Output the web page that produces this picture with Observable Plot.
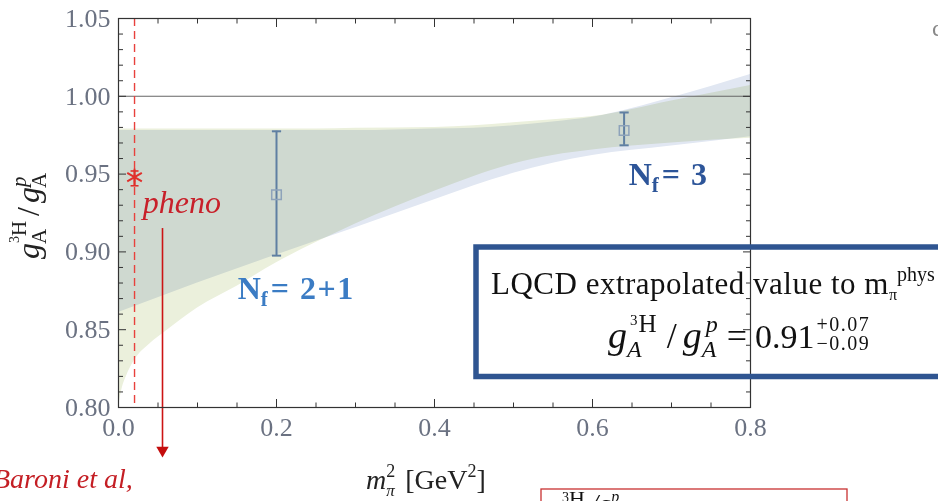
<!DOCTYPE html>
<html><head><meta charset="utf-8">
<script src="https://cdn.jsdelivr.net/npm/d3@7"></script>
<script src="https://cdn.jsdelivr.net/npm/@observablehq/plot@0.6"></script>
<style>html,body{margin:0;padding:0;background:#fff;overflow:hidden;} #chart{width:938px;height:501px;overflow:hidden;}</style>
</head><body><div id="chart"></div>
<script>
const serif = "'Liberation Serif', 'Times New Roman', serif";

// Nf=2+1 extrapolation band (yellow-green)
const yellowX  = [0, 0.005, 0.01, 0.02, 0.04, 0.06, 0.1, 0.15, 0.2, 0.25, 0.3, 0.4, 0.45, 0.5, 0.55, 0.6, 0.7, 0.8];
const yellowLo = [0.800, 0.813, 0.820, 0.830, 0.841, 0.849, 0.864, 0.878, 0.893, 0.906, 0.918, 0.939, 0.9485, 0.9565, 0.962, 0.9655, 0.970, 0.973];
const yellowHi = [0.979, 0.979, 0.979, 0.979, 0.979, 0.979, 0.979, 0.979, 0.979, 0.979, 0.9795, 0.980, 0.981, 0.983, 0.985, 0.987, 0.997, 1.007];
// Nf=3 extrapolation band (light blue)
const blueX  = [0, 0.1, 0.2, 0.3, 0.4, 0.45, 0.5, 0.55, 0.6, 0.7, 0.8];
const blueLo = [0.861, 0.880, 0.898, 0.9155, 0.9335, 0.9425, 0.9505, 0.957, 0.962, 0.968, 0.974];
const blueHi = [0.978, 0.978, 0.978, 0.978, 0.979, 0.9795, 0.981, 0.9835, 0.9865, 0.999, 1.014];

// lattice points
const pointName = ["Nf=2+1", "Nf=3"];
const pointX  = [0.2, 0.64];
const pointY  = [0.9367, 0.978];
const pointLo = [0.8976, 0.9685];
const pointHi = [0.9775, 0.9896];

// phenomenological value
const phenoX  = [0.0203];
const phenoY  = [0.948];
const phenoLo = [0.9425];
const phenoHi = [0.952];

// arrow below "pheno"
const arrowX = [0.0557];
const arrowTop = [0.915];
const arrowTip = [0.7725];

// ticks
const xMajor = [0, 0.2, 0.4, 0.6, 0.8];
const xMinor = [0.05, 0.1, 0.15, 0.25, 0.3, 0.35, 0.45, 0.5, 0.55, 0.65, 0.7, 0.75];
const yMajor = [0.80, 0.85, 0.90, 0.95, 1.00, 1.05];
const yMinor = [0.81,0.82,0.83,0.84,0.86,0.87,0.88,0.89,0.91,0.92,0.93,0.94,0.96,0.97,0.98,0.99,1.01,1.02,1.03,1.04];

const yellowBand = yellowX.map((x, i) => ({x, lo: yellowLo[i], hi: yellowHi[i]}));
const blueBand = blueX.map((x, i) => ({x, lo: blueLo[i], hi: blueHi[i]}));
const points = pointName.map((n, i) => ({n, x: pointX[i], y: pointY[i], lo: pointLo[i], hi: pointHi[i]}));
const pheno = phenoX.map((x, i) => ({x, y: phenoY[i], lo: phenoLo[i], hi: phenoHi[i]}));
const arrow = arrowX.map((x, i) => ({x, top: arrowTop[i], tip: arrowTip[i]}));

const capSymbol = {draw(ctx, size) { const r = Math.sqrt(size / Math.PI); ctx.moveTo(-r, 0); ctx.lineTo(r, 0); }};
const errColor = "#5f7fa2";
const tickColor = "#333";
const labColor = "#6b7282";

const axisCommon = {stroke: tickColor, label: null};
const plot = Plot.plot({
  width: 938, height: 501,
  marginLeft: 118, marginRight: 188, marginTop: 18, marginBottom: 94,
  x: {domain: [0, 0.8]},
  y: {domain: [0.8, 1.05]},
  style: {fontFamily: serif, background: "white", overflow: "visible"},
  marks: [
    Plot.areaY(yellowBand, {x: "x", y1: "lo", y2: "hi", fill: "#ebf0dc", curve: "monotone-x", mixBlendMode: "multiply"}),
    Plot.areaY(blueBand, {x: "x", y1: "lo", y2: "hi", fill: "#e1e7f2", curve: "monotone-x", mixBlendMode: "multiply"}),
    Plot.ruleY([1.0], {stroke: "#666", strokeWidth: 1.1}),
    Plot.ruleX(pheno, {x: "x", stroke: "#e8413c", strokeWidth: 1.4, strokeDasharray: "8,5"}),
    Plot.ruleX(arrow, {x: "x", y1: "top", y2: "tip", stroke: "#cc1414", strokeWidth: 1.6}),
    Plot.dot(arrow, {x: "x", y: "tip", symbol: "triangle", rotate: 180, r: 4.6, fill: "#c40d0d", stroke: "none"}),
    // error bars
    Plot.ruleX(points, {x: "x", y1: "lo", y2: "hi", stroke: errColor, strokeWidth: 2}),
    Plot.dot(points, {x: "x", y: "lo", symbol: capSymbol, r: 4.6, stroke: errColor, strokeWidth: 2, fill: "none"}),
    Plot.dot(points, {x: "x", y: "hi", symbol: capSymbol, r: 4.6, stroke: errColor, strokeWidth: 2, fill: "none"}),
    Plot.dot(points, {x: "x", y: "y", symbol: "square", r: 5.4, stroke: "#8ea3ba", strokeWidth: 1.5, fill: "none"}),
    // pheno
    Plot.ruleX(pheno, {x: "x", y1: "lo", y2: "hi", stroke: "#e0302c", strokeWidth: 1.6}),
    Plot.dot(pheno, {x: "x", y: "lo", symbol: capSymbol, r: 4, stroke: "#e0302c", strokeWidth: 1.6, fill: "none"}),
    Plot.dot(pheno, {x: "x", y: "hi", symbol: capSymbol, r: 4, stroke: "#e0302c", strokeWidth: 1.6, fill: "none"}),
    Plot.dot(pheno, {x: "x", y: "y", symbol: "asterisk", r: 8, stroke: "#e0302c", strokeWidth: 2}),
    Plot.frame({stroke: tickColor, strokeWidth: 1.2}),
    // axes (inward ticks on all sides)
    Plot.axisX(xMajor, {...axisCommon, anchor: "bottom", tickSize: -8, tickPadding: 18, tickFormat: d => d.toFixed(1), fontSize: 26, fill: labColor}),
    Plot.axisX(xMinor, {...axisCommon, anchor: "bottom", tickSize: -4.5, fill: "none"}),
    Plot.axisX(xMajor, {...axisCommon, anchor: "top", tickSize: -8, fill: "none"}),
    Plot.axisX(xMinor, {...axisCommon, anchor: "top", tickSize: -4.5, fill: "none"}),
    Plot.axisY(yMajor, {...axisCommon, anchor: "left", tickSize: -8, tickPadding: 16, tickFormat: d => d.toFixed(2), fontSize: 26, fill: labColor}),
    Plot.axisY(yMinor, {...axisCommon, anchor: "left", tickSize: -5, fill: "none"}),
    Plot.axisY(yMajor, {...axisCommon, anchor: "right", tickSize: -8, fill: "none"}),
    Plot.axisY(yMinor, {...axisCommon, anchor: "right", tickSize: -5, fill: "none"})
  ]
});
document.getElementById("chart").append(plot);

const svg = d3.select(plot);
svg.selectAll('g[aria-label="area"]').style("mix-blend-mode", "multiply");
const sx = plot.scale("x"), sy = plot.scale("y");

function put(g, it, x) {
  const el = g.append("text").attr("x", x).attr("y", it.dy || 0)
    .attr("text-anchor", "start")
    .attr("font-size", it.size)
    .attr("font-style", it.italic ? "italic" : "normal")
    .attr("font-weight", it.bold ? "bold" : "normal")
    .text(it.t);
  if (it.ls) el.attr("letter-spacing", it.ls);
  if (it.fill) el.attr("fill", it.fill);
  return el.node().getComputedTextLength();
}
function layout(g, items, x0) {
  let cx = x0;
  for (const it of items) {
    cx += it.dx || 0;
    if (it.stack) { let m = cx; for (const row of it.stack) m = Math.max(m, layout(g, row, cx)); cx = m; }
    else cx += put(g, it, cx);
  }
  return cx;
}
function rich(x, y, items, {anchor = "start", rotate = 0, fill = "#000"} = {}) {
  const outer = svg.append("g").attr("font-family", serif).attr("fill", fill).attr("text-anchor", "start");
  const g = outer.append("g");
  const w = layout(g, items, 0);
  const off = anchor === "end" ? -w : anchor === "middle" ? -w / 2 : 0;
  outer.attr("transform", `translate(${x},${y}) rotate(${rotate})`);
  g.attr("transform", `translate(${off},0)`);
}

// y axis title
rich(39, 216, [
  {t: "g", italic: true, size: 32},
  {stack: [[{t: "A", size: 21, dy: 7, dx: -1}], [{t: "3", size: 14, dy: -20}, {t: "H", size: 21, dy: -13}]]},
  {t: "/", size: 32, dx: 5},
  {t: "g", italic: true, size: 32, dx: 4},
  {stack: [[{t: "A", size: 21, dy: 7, dx: -1}], [{t: "p", italic: true, size: 21, dy: -13}]]}
], {anchor: "middle", rotate: -90, fill: "#222"});

// x axis title
rich(366, 489, [
  {t: "m", italic: true, size: 28},
  {stack: [[{t: "π", italic: true, size: 17, dy: 7}], [{t: "2", size: 18, dy: -12}]]},
  {t: "[GeV", size: 28, dx: 10},
  {t: "2", size: 18, dy: -12},
  {t: "]", size: 28}
], {fill: "#222"});

// annotations inside plot
rich(sx.apply(0.0313), sy.apply(0.9247), [{t: "pheno", italic: true, size: 32}], {fill: "#c8202a"});
rich(sx.apply(0.1515), sy.apply(0.8693), [
  {t: "N", bold: true, size: 32}, {t: "f", bold: true, size: 21, dy: 7}, {t: "= 2+1", bold: true, size: 32, dx: 3, ls: 1.5}
], {fill: "#3b7cc4"});
rich(sx.apply(0.6465), sy.apply(0.9426), [
  {t: "N", bold: true, size: 32}, {t: "f", bold: true, size: 21, dy: 7}, {t: "= 3", bold: true, size: 32, dx: 3, ls: 1.5}
], {fill: "#2d5599"});

// result box
svg.append("rect").attr("x", 476).attr("y", 247).attr("width", 520).attr("height", 129.5)
  .attr("fill", "none").attr("stroke", "#2f5591").attr("stroke-width", 5.5);
rich(491, 294, [
  {t: "LQCD extrapolated value to m", size: 31, ls: 0.5},
  {t: "π", size: 16, dy: 6},
  {t: "phys", size: 20, dy: -13}
], {fill: "#111"});
rich(747, 348, [
  {t: "g", italic: true, size: 38},
  {stack: [[{t: "A", italic: true, size: 24, dy: 9}], [{t: "3", size: 15, dy: -23, dx: 3}, {t: "H", size: 25, dy: -16, dx: 1}]]},
  {t: "/", size: 36, dx: 10},
  {t: "g", italic: true, size: 38, dx: 6},
  {stack: [[{t: "A", italic: true, size: 24, dy: 9}], [{t: "p", italic: true, size: 24, dy: -16, dx: 4}]]},
  {t: "=", size: 36, dx: 9}
], {anchor: "end", fill: "#111"});
rich(755, 348, [
  {t: "0.91", size: 34},
  {stack: [[{t: "+0.07", size: 20, dy: -17, ls: 1.5}], [{t: "−0.09", size: 20, dy: 2, ls: 1.5}]], dx: 2}
], {fill: "#111"});

// bottom annotations
rich(-7, 488, [{t: "Baroni et al,", italic: true, size: 28}], {fill: "#c41e24"});
svg.append("rect").attr("x", 541).attr("y", 489).attr("width", 306).attr("height", 40)
  .attr("fill", "none").attr("stroke", "#c83232").attr("stroke-width", 1.3);
rich(562, 512, [
  {t: "3", size: 14, dy: -10}, {t: "H", size: 22, dy: -6}, {t: "/g", italic: true, size: 26, dx: 6}, {t: "p", italic: true, size: 16, dy: -10}
], {fill: "#111"});
rich(932, 36, [{t: "c", size: 24}], {fill: "#888"});
</script>
</body></html>
